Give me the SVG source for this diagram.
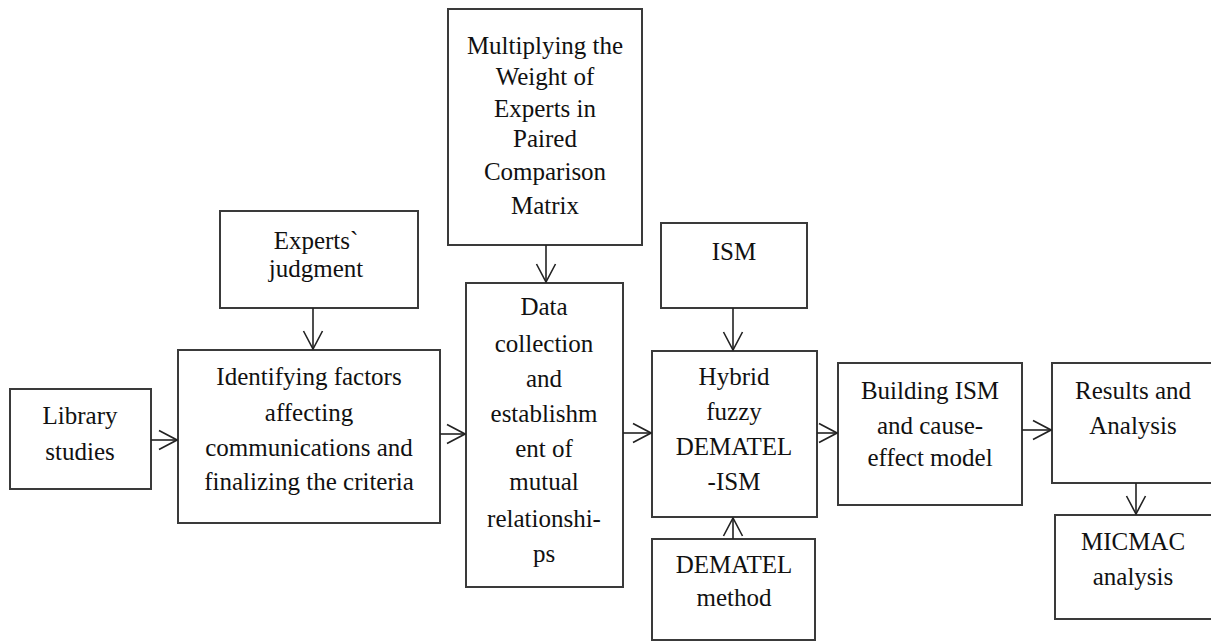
<svg xmlns="http://www.w3.org/2000/svg" width="1211" height="642" viewBox="0 0 1211 642">
<style>
.box{fill:#fff;stroke:#3a3a3a;stroke-width:2}
.t{font-family:'Times New Roman','Liberation Serif','DejaVu Serif',serif;font-size:25px;fill:#111;text-anchor:middle}
.c{fill:none;stroke:#222;stroke-width:1.6;marker-end:url(#ah)}
</style>
<defs>
<marker id="ah" markerUnits="userSpaceOnUse" viewBox="0 0 20 22" refX="19" refY="11" markerWidth="20" markerHeight="22" orient="auto">
<path d="M1,1.5 L19,11 L1,20.5" fill="none" stroke="#222" stroke-width="1.6"/>
</marker>
</defs>
<rect width="1211" height="642" fill="#fff"/>
<g id="library">
<rect class="box" x="10" y="389" width="141" height="100"/>
<text class="t" x="80" y="424">Library</text>
<text class="t" x="80" y="460">studies</text>
</g>
<g id="identifying">
<rect class="box" x="178" y="350" width="262" height="173"/>
<text class="t" x="309" y="385">Identifying factors</text>
<text class="t" x="309" y="421">affecting</text>
<text class="t" x="309" y="456">communications and</text>
<text class="t" x="309" y="490">finalizing the criteria</text>
</g>
<g id="experts">
<rect class="box" x="220" y="211" width="198" height="97"/>
<text class="t" x="316" y="249">Experts`</text>
<text class="t" x="316" y="277">judgment</text>
</g>
<g id="multiplying">
<rect class="box" x="448" y="9" width="194" height="236"/>
<text class="t" x="545" y="54">Multiplying the</text>
<text class="t" x="545" y="85">Weight of</text>
<text class="t" x="545" y="117">Experts in</text>
<text class="t" x="545" y="147">Paired</text>
<text class="t" x="545" y="180">Comparison</text>
<text class="t" x="545" y="214">Matrix</text>
</g>
<g id="data">
<rect class="box" x="466" y="283" width="157" height="304"/>
<text class="t" x="544" y="315">Data</text>
<text class="t" x="544" y="352">collection</text>
<text class="t" x="544" y="387">and</text>
<text class="t" x="544" y="422">establishm</text>
<text class="t" x="544" y="457">ent of</text>
<text class="t" x="544" y="490">mutual</text>
<text class="t" x="544" y="527">relationshi-</text>
<text class="t" x="544" y="562">ps</text>
</g>
<g id="ism">
<rect class="box" x="661" y="223" width="146" height="85"/>
<text class="t" x="734" y="260">ISM</text>
</g>
<g id="hybrid">
<rect class="box" x="652" y="351" width="165" height="166"/>
<text class="t" x="734" y="385">Hybrid</text>
<text class="t" x="734" y="420">fuzzy</text>
<text class="t" x="734" y="455">DEMATEL</text>
<text class="t" x="734" y="490">-ISM</text>
</g>
<g id="dematel">
<rect class="box" x="652" y="539" width="163" height="101"/>
<text class="t" x="734" y="573">DEMATEL</text>
<text class="t" x="734" y="606">method</text>
</g>
<g id="building">
<rect class="box" x="838" y="363" width="184" height="142"/>
<text class="t" x="930" y="399">Building ISM</text>
<text class="t" x="930" y="434">and cause-</text>
<text class="t" x="930" y="466">effect model</text>
</g>
<g id="results">
<rect class="box" x="1052" y="363" width="170" height="120"/>
<text class="t" x="1133" y="399">Results and</text>
<text class="t" x="1133" y="434">Analysis</text>
</g>
<g id="micmac">
<rect class="box" x="1055" y="515" width="170" height="104"/>
<text class="t" x="1133" y="550">MICMAC</text>
<text class="t" x="1133" y="585">analysis</text>
</g>
<g id="connectors">
<line class="c" x1="151" y1="440" x2="177" y2="440"/>
<line class="c" x1="313" y1="308" x2="313" y2="349"/>
<line class="c" x1="440" y1="434" x2="465" y2="434"/>
<line class="c" x1="546" y1="245" x2="546" y2="282"/>
<line class="c" x1="623" y1="433" x2="651" y2="433"/>
<line class="c" x1="733" y1="308" x2="733" y2="350"/>
<line class="c" x1="733" y1="539" x2="733" y2="518"/>
<line class="c" x1="817" y1="433" x2="837" y2="433"/>
<line class="c" x1="1022" y1="430" x2="1051" y2="430"/>
<line class="c" x1="1136" y1="483" x2="1136" y2="514"/>
</g>
</svg>
